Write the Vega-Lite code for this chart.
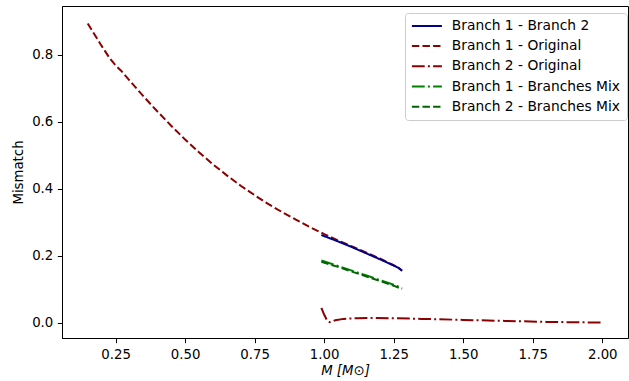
{
  "$schema": "https://vega.github.io/schema/vega-lite/v6.json",
  "width": 566,
  "height": 332,
  "autosize": {"type": "none"},
  "padding": {"left": 62, "top": 6, "right": 1, "bottom": 43},
  "background": "white",
  "config": {
    "font": "DejaVu Sans",
    "view": {"stroke": "black", "strokeWidth": 1},
    "axis": {
      "grid": false,
      "domainColor": "black",
      "domainWidth": 1,
      "tickColor": "black",
      "tickWidth": 1,
      "tickSize": 4.7,
      "labelColor": "black",
      "labelFontSize": 13.3,
      "labelPadding": 4.5,
      "titleColor": "black",
      "titleFontSize": 13.3,
      "titleFontWeight": "normal"
    }
  },
  "data": {
    "values": [
      {"series": "Branch 1 - Original", "m": 0.15, "mismatch": 0.893},
      {"series": "Branch 1 - Original", "m": 0.17, "mismatch": 0.866},
      {"series": "Branch 1 - Original", "m": 0.2, "mismatch": 0.826},
      {"series": "Branch 1 - Original", "m": 0.23, "mismatch": 0.788},
      {"series": "Branch 1 - Original", "m": 0.25, "mismatch": 0.768},
      {"series": "Branch 1 - Original", "m": 0.27, "mismatch": 0.752},
      {"series": "Branch 1 - Original", "m": 0.3, "mismatch": 0.723},
      {"series": "Branch 1 - Original", "m": 0.35, "mismatch": 0.676},
      {"series": "Branch 1 - Original", "m": 0.4, "mismatch": 0.631},
      {"series": "Branch 1 - Original", "m": 0.45, "mismatch": 0.588},
      {"series": "Branch 1 - Original", "m": 0.5, "mismatch": 0.547},
      {"series": "Branch 1 - Original", "m": 0.55, "mismatch": 0.509},
      {"series": "Branch 1 - Original", "m": 0.6, "mismatch": 0.473},
      {"series": "Branch 1 - Original", "m": 0.65, "mismatch": 0.44},
      {"series": "Branch 1 - Original", "m": 0.7, "mismatch": 0.409},
      {"series": "Branch 1 - Original", "m": 0.75, "mismatch": 0.381},
      {"series": "Branch 1 - Original", "m": 0.8, "mismatch": 0.354},
      {"series": "Branch 1 - Original", "m": 0.85, "mismatch": 0.33},
      {"series": "Branch 1 - Original", "m": 0.9, "mismatch": 0.307},
      {"series": "Branch 1 - Original", "m": 0.95, "mismatch": 0.285},
      {"series": "Branch 1 - Original", "m": 1.0, "mismatch": 0.265},
      {"series": "Branch 1 - Original", "m": 1.05, "mismatch": 0.246},
      {"series": "Branch 1 - Original", "m": 1.1, "mismatch": 0.228},
      {"series": "Branch 1 - Original", "m": 1.15, "mismatch": 0.21},
      {"series": "Branch 1 - Original", "m": 1.2, "mismatch": 0.192},
      {"series": "Branch 1 - Original", "m": 1.25, "mismatch": 0.172},
      {"series": "Branch 1 - Original", "m": 1.28, "mismatch": 0.157},

      {"series": "Branch 1 - Branch 2", "m": 0.99, "mismatch": 0.262},
      {"series": "Branch 1 - Branch 2", "m": 1.05, "mismatch": 0.243},
      {"series": "Branch 1 - Branch 2", "m": 1.1, "mismatch": 0.226},
      {"series": "Branch 1 - Branch 2", "m": 1.15, "mismatch": 0.208},
      {"series": "Branch 1 - Branch 2", "m": 1.2, "mismatch": 0.19},
      {"series": "Branch 1 - Branch 2", "m": 1.25, "mismatch": 0.171},
      {"series": "Branch 1 - Branch 2", "m": 1.27, "mismatch": 0.163},
      {"series": "Branch 1 - Branch 2", "m": 1.28, "mismatch": 0.155},

      {"series": "Branch 2 - Original", "m": 0.99, "mismatch": 0.045},
      {"series": "Branch 2 - Original", "m": 1.0, "mismatch": 0.025},
      {"series": "Branch 2 - Original", "m": 1.01, "mismatch": 0.008},
      {"series": "Branch 2 - Original", "m": 1.02, "mismatch": 0.002},
      {"series": "Branch 2 - Original", "m": 1.04, "mismatch": 0.008},
      {"series": "Branch 2 - Original", "m": 1.07, "mismatch": 0.012},
      {"series": "Branch 2 - Original", "m": 1.12, "mismatch": 0.014},
      {"series": "Branch 2 - Original", "m": 1.18, "mismatch": 0.015},
      {"series": "Branch 2 - Original", "m": 1.25, "mismatch": 0.014},
      {"series": "Branch 2 - Original", "m": 1.35, "mismatch": 0.012},
      {"series": "Branch 2 - Original", "m": 1.5, "mismatch": 0.009},
      {"series": "Branch 2 - Original", "m": 1.65, "mismatch": 0.006},
      {"series": "Branch 2 - Original", "m": 1.8, "mismatch": 0.003},
      {"series": "Branch 2 - Original", "m": 1.9, "mismatch": 0.002},
      {"series": "Branch 2 - Original", "m": 2.0, "mismatch": 0.001},

      {"series": "Branch 1 - Branches Mix", "m": 0.99, "mismatch": 0.186},
      {"series": "Branch 1 - Branches Mix", "m": 1.05, "mismatch": 0.17},
      {"series": "Branch 1 - Branches Mix", "m": 1.1, "mismatch": 0.156},
      {"series": "Branch 1 - Branches Mix", "m": 1.15, "mismatch": 0.142},
      {"series": "Branch 1 - Branches Mix", "m": 1.2, "mismatch": 0.128},
      {"series": "Branch 1 - Branches Mix", "m": 1.25, "mismatch": 0.114},
      {"series": "Branch 1 - Branches Mix", "m": 1.28, "mismatch": 0.104},

      {"series": "Branch 2 - Branches Mix", "m": 0.99, "mismatch": 0.182},
      {"series": "Branch 2 - Branches Mix", "m": 1.05, "mismatch": 0.167},
      {"series": "Branch 2 - Branches Mix", "m": 1.1, "mismatch": 0.153},
      {"series": "Branch 2 - Branches Mix", "m": 1.15, "mismatch": 0.139},
      {"series": "Branch 2 - Branches Mix", "m": 1.2, "mismatch": 0.125},
      {"series": "Branch 2 - Branches Mix", "m": 1.25, "mismatch": 0.111},
      {"series": "Branch 2 - Branches Mix", "m": 1.28, "mismatch": 0.101}
    ]
  },
  "mark": {"type": "line", "strokeWidth": 2},
  "encoding": {
    "x": {
      "field": "m",
      "type": "quantitative",
      "scale": {"domain": [0.0575, 2.0925], "nice": false, "zero": false},
      "axis": {
        "values": [0.25, 0.5, 0.75, 1.0, 1.25, 1.5, 1.75, 2.0],
        "format": ".2f",
        "title": "M [M⊙]",
        "titleFontStyle": "italic",
        "titlePadding": 3
      }
    },
    "y": {
      "field": "mismatch",
      "type": "quantitative",
      "scale": {"domain": [-0.045, 0.945], "nice": false, "zero": false},
      "axis": {
        "values": [0, 0.2, 0.4, 0.6, 0.8],
        "format": ".1f",
        "title": "Mismatch",
        "titlePadding": 6
      }
    },
    "color": {
      "field": "series",
      "type": "nominal",
      "scale": {
        "domain": ["Branch 1 - Branch 2", "Branch 1 - Original", "Branch 2 - Original", "Branch 1 - Branches Mix", "Branch 2 - Branches Mix"],
        "range": ["#00008b", "#8b0000", "#8b0000", "#008000", "#006400"]
      },
      "legend": {
        "title": null,
        "orient": "none",
        "legendX": 343,
        "legendY": 7,
        "symbolType": "M-3,0H3",
        "symbolSize": 100,
        "symbolStrokeWidth": 2,
        "symbolOffset": 9,
        "labelFontSize": 13.8,
        "labelColor": "black",
        "labelLimit": 400,
        "labelOffset": 18,
        "rowPadding": 5.2,
        "padding": 6,
        "fillColor": "white",
        "strokeColor": "#cccccc",
        "cornerRadius": 3
      }
    },
    "strokeDash": {
      "field": "series",
      "type": "nominal",
      "scale": {
        "domain": ["Branch 1 - Branch 2", "Branch 1 - Original", "Branch 2 - Original", "Branch 1 - Branches Mix", "Branch 2 - Branches Mix"],
        "range": [[1, 0], [7.4, 3.2], [12.8, 3.2, 2, 3.2], [12.8, 3.2, 2, 3.2], [7.4, 3.2]]
      },
      "legend": null
    }
  }
}
